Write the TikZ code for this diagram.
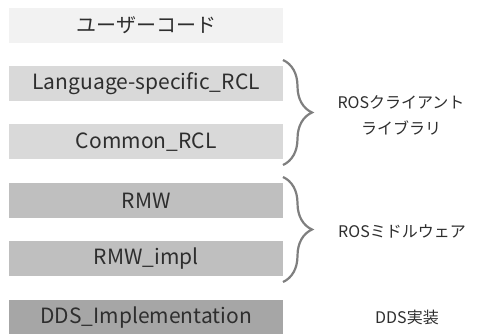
\documentclass[tikz,border=0pt]{standalone}
\usepackage{fontspec}
\setmainfont{Noto Sans CJK JP}
\usetikzlibrary{decorations.pathreplacing}
\definecolor{txt}{HTML}{2E2E2E}
\definecolor{c1}{HTML}{F2F2F2}
\definecolor{c2}{HTML}{D9D9D9}
\definecolor{c3}{HTML}{BFBFBF}
\definecolor{c4}{HTML}{A6A6A6}
\definecolor{br}{HTML}{7F7F7F}
\tikzset{
  layer/.style={minimum width=274pt, minimum height=35pt, inner sep=0pt, text=txt, font=\fontsize{20}{24}\selectfont, anchor=north west},
  latin/.style={font=\fontsize{21}{24}\selectfont},
  lbl/.style={text=txt, font=\fontsize{16}{26}\selectfont, align=center, inner sep=0pt},
  bracestyle/.style={draw=br, line width=2.2pt, decorate, decoration={brace, amplitude=29pt}}
}
\begin{document}
\begin{tikzpicture}[x=1pt,y=-1pt]
\useasboundingbox (0,0) rectangle (481,333);
\node[layer, fill=c1] (user) at (9,8) {ユーザーコード};
\node[layer, latin, fill=c2] (lang) at (9,66) {Language-specific\_RCL};
\node[layer, latin, fill=c2] (common) at (9,124) {Common\_RCL};
\node[layer, latin, fill=c3] (rmw) at (9,183) {RMW};
\node[layer, latin, fill=c3] (rmwimpl) at (9,241) {RMW\_impl};
\node[layer, latin, fill=c4, minimum height=35pt] (dds) at (9,300) {DDS\_Implementation};
\coordinate (b1t) at (283,60);
\coordinate (b1b) at (283,165);
\coordinate (b2t) at (283,177);
\coordinate (b2b) at (283,282);
\draw[bracestyle] (b1t) -- (b1b);
\draw[bracestyle] (b2t) -- (b2b);
\node[lbl] (rcl) at (401,115) {ROSクライアント\\ライブラリ};
\node[lbl] (mw) at (402,231) {ROSミドルウェア};
\node[lbl] (ddsl) at (407,317) {DDS実装};
\end{tikzpicture}
\end{document}
